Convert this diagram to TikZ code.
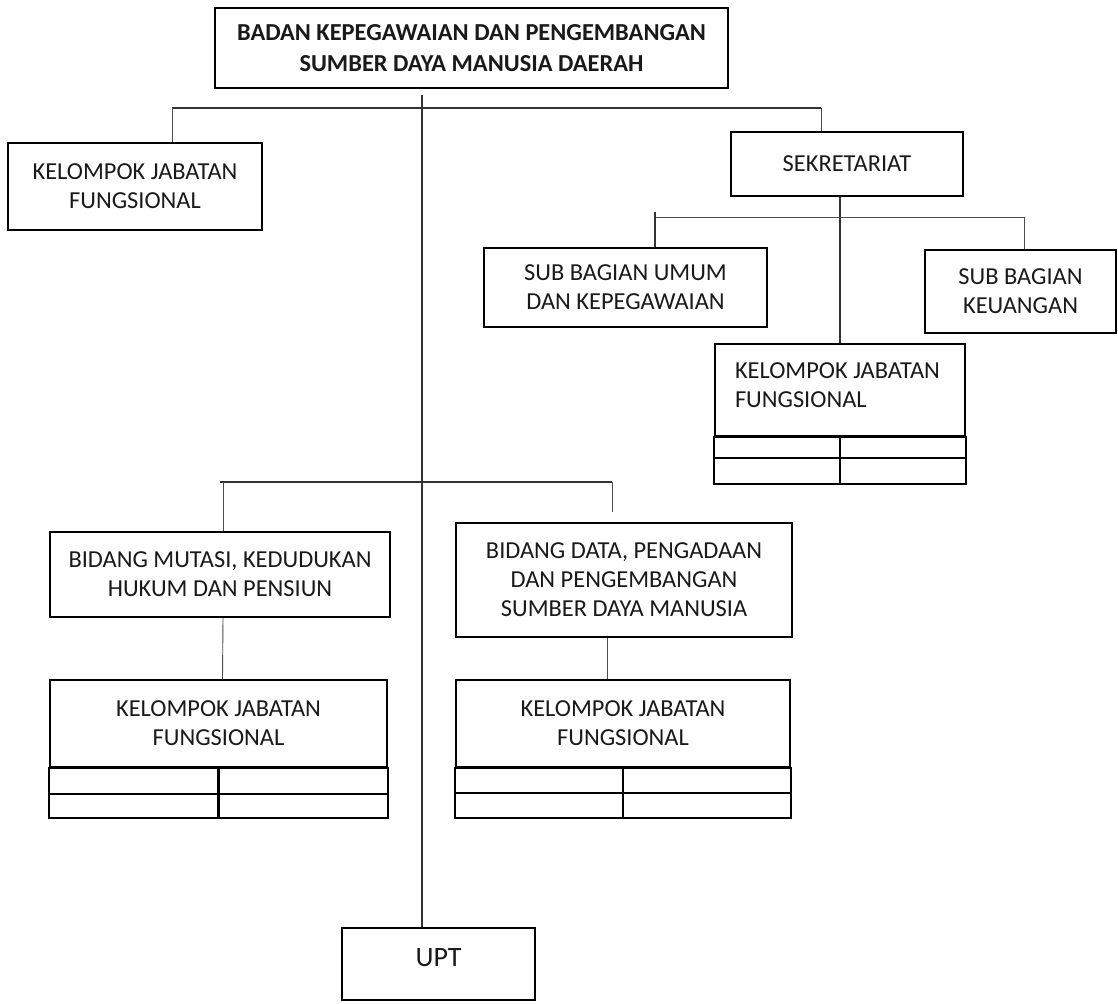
\documentclass[tikz,border=0pt]{standalone}
\usepackage{fontspec}
\setmainfont{Carlito}
\usetikzlibrary{calc, positioning}

\tikzset{
  unit/.style={draw, line width=1.1pt, inner sep=0pt, align=center,
    text=black!90, font=\fontsize{12.2}{14.5}\selectfont},
  unitbold/.style={unit, font=\fontsize{12.2}{15.5}\selectfont\bfseries},
  boxsz/.style 2 args={minimum width=#1*0.5pt, minimum height=#2*0.5pt},
  link/.style={line width=0.6pt, black!80},
  thinlink/.style={line width=0.45pt, black!70},
  cellline/.style={line width=1.1pt}
}

\begin{document}
\begin{tikzpicture}[x=0.5pt, y=-0.5pt]
\useasboundingbox (0,0) rectangle (1118,1003);

% kepala badan
\node[unitbold, boxsz={513}{80}] (head) at (471.5,48)
  {BADAN KEPEGAWAIAN DAN PENGEMBANGAN\\SUMBER DAYA MANUSIA DAERAH};

% baris pertama
\node[unit, boxsz={254}{87}] (kjfa) at (135,186.5) {KELOMPOK JABATAN\\FUNGSIONAL};
\node[unit, boxsz={232}{64}] (sekr) at (847,164) {SEKRETARIAT};

% sekretariat
\node[unit, boxsz={283}{79}] (umum) at (625.5,287.5) {SUB BAGIAN UMUM\\DAN KEPEGAWAIAN};
\node[unit, boxsz={191}{83}] (keu) at (1020.5,291.5) {SUB BAGIAN\\KEUANGAN};
\node[unit, boxsz={250}{92}, text width=105pt, align=flush left,
  text depth=19pt] (kjfb) at (840,390)
  {KELOMPOK JABATAN\\FUNGSIONAL};

% bidang
\node[unit, boxsz={340}{85}] (mutasi) at (220,574.5) {BIDANG MUTASI, KEDUDUKAN\\HUKUM DAN PENSIUN};
\node[unit, boxsz={336}{114}] (data) at (624,580)
  {BIDANG DATA, PENGADAAN\\DAN PENGEMBANGAN\\SUMBER DAYA MANUSIA};
\node[unit, boxsz={337}{87}] (kjfc) at (218.5,723.5) {KELOMPOK JABATAN\\FUNGSIONAL};
\node[unit, boxsz={334}{87}] (kjfd) at (623,723.5) {KELOMPOK JABATAN\\FUNGSIONAL};

\node[unit, boxsz={193}{72}, font=\fontsize{14}{16}\selectfont,
  text depth=7pt] (upt) at (438.5,964) {UPT};

% tabel di bawah kelompok jabatan fungsional
\draw[cellline] (kjfb.south west) rectangle ($(kjfb.south east)+(0,47)$)
  ($(kjfb.south west)+(0,21)$) -- ($(kjfb.south east)+(0,21)$)
  (kjfb.south) -- ($(kjfb.south)+(0,47)$);
\draw[cellline] (kjfc.south west) rectangle ($(kjfc.south east)+(0,50)$)
  ($(kjfc.south west)+(0,26)$) -- ($(kjfc.south east)+(0,26)$)
  (kjfc.south) -- ($(kjfc.south)+(0,50)$);
\draw[cellline] (kjfd.south west) rectangle ($(kjfd.south east)+(0,50)$)
  ($(kjfd.south west)+(0,25)$) -- ($(kjfd.south east)+(0,25)$)
  (kjfd.south) -- ($(kjfd.south)+(0,50)$);

% garis
\coordinate (trunk) at (422,95);
\coordinate (busaw) at (172,108);
\coordinate (busae) at (821,108);
\coordinate (busbw) at (655,217);
\coordinate (busbe) at (1024,217);
\coordinate (buscw) at (220,482);
\coordinate (busce) at (612,482);

\draw[link] (trunk) -- (trunk |- upt.north);
\draw[link] (busaw) -- (busae);
\draw[thinlink] (busaw) -- (busaw |- kjfa.north);
\draw[thinlink] (busae) -- (busae |- sekr.north);

\draw[link, line width=0.9pt] (kjfb.north) -- (kjfb.north |- sekr.south);
\draw[thinlink] (busbw) -- (busbe);
\draw[link, line width=0.9pt] ($(busbw)+(0,-5)$) -- (busbw |- umum.north);
\draw[thinlink] (busbe) -- (busbe |- keu.north);

\draw[link] (buscw) -- (busce);
\draw[thinlink] ($(buscw)+(3,0)$) -- ($(mutasi.north)+(3,0)$);
\draw[thinlink] (busce) -- ($(busce |- data.north)+(0,-10)$);
\draw[thinlink] ($(mutasi.south)+(3,0)$) -- ($(kjfc.north)+(4,0)$);
\draw[thinlink] ($(data.south)+(-17,0)$) -- ($(kjfd.north)+(-16,0)$);
\end{tikzpicture}
\end{document}
